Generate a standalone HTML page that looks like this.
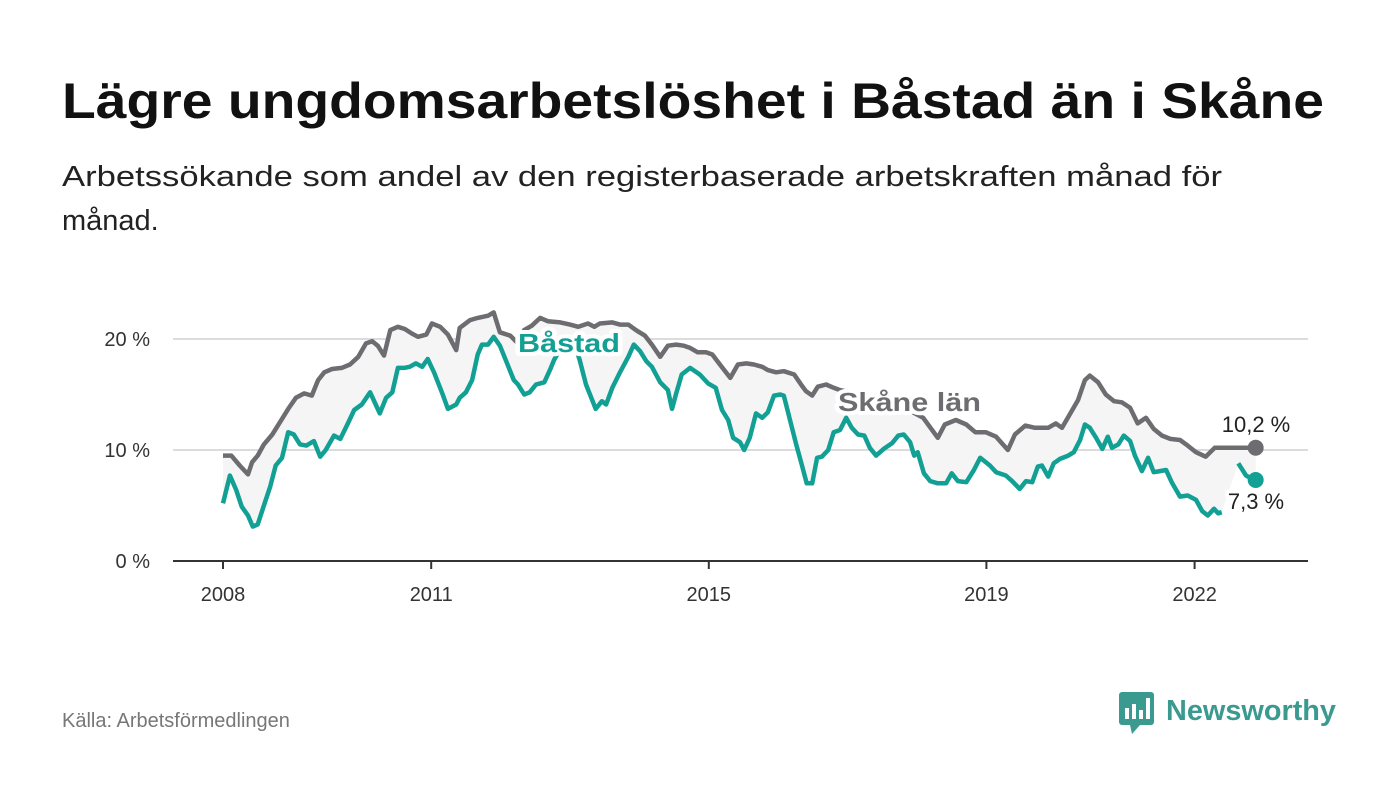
<!DOCTYPE html>
<html><head><meta charset="utf-8">
<style>
html,body{margin:0;padding:0;background:#fff;}
svg{display:block;font-family:"Liberation Sans",sans-serif;}
</style></head>
<body>
<svg id="chart" width="1400" height="794" viewBox="0 0 1400 794">
  <text x="62" y="118" font-size="50" font-weight="bold" fill="#111" textLength="1262" lengthAdjust="spacingAndGlyphs">Lägre ungdomsarbetslöshet i Båstad än i Skåne</text>
  <text x="62" y="186" font-size="29" fill="#222" textLength="1160" lengthAdjust="spacingAndGlyphs">Arbetssökande som andel av den registerbaserade arbetskraften månad för</text>
  <text x="62" y="230" font-size="29" fill="#222">månad.</text>
  <g id="grid"></g>
  <g id="area"></g>
  <g id="lines"></g>
  <g id="xaxis"></g>
  <g id="labels"></g>
  <text x="62" y="727" font-size="20" fill="#777">Källa: Arbetsförmedlingen</text>
  <g>
    <rect x="1119" y="692" width="35" height="33" rx="3" fill="#3a9a8f"/>
    <polygon points="1130,725 1140,725 1132,734" fill="#3a9a8f"/>
    <rect x="1125" y="708" width="4" height="11" fill="#fff"/>
    <rect x="1132" y="704" width="4" height="15" fill="#fff"/>
    <rect x="1139" y="710" width="4" height="9" fill="#fff"/>
    <rect x="1146" y="698" width="4" height="21" fill="#fff"/>
    <text x="1166" y="720" font-size="29" font-weight="bold" fill="#3a9a8f" textLength="170" lengthAdjust="spacingAndGlyphs">Newsworthy</text>
  </g>
</svg>
<script>
const yTicks = [0, 10, 20];
const yTickLabels = ["0 %", "10 %", "20 %"];
const xTicks = [2008, 2011, 2015, 2019, 2022];
const xTickLabels = ["2008", "2011", "2015", "2019", "2022"];
const skaneT = [0.00,0.12,0.24,0.36,0.42,0.50,0.59,0.71,0.82,0.94,1.05,1.17,1.28,1.37,1.46,1.57,1.71,1.83,1.95,2.06,2.15,2.23,2.32,2.41,2.52,2.62,2.72,2.81,2.93,3.01,3.13,3.24,3.36,3.41,3.56,3.67,3.82,3.90,3.99,4.14,4.25,4.34,4.45,4.57,4.68,4.86,5.00,5.12,5.26,5.35,5.43,5.61,5.72,5.84,5.95,6.08,6.18,6.30,6.41,6.53,6.64,6.73,6.84,6.96,7.05,7.16,7.31,7.42,7.54,7.65,7.77,7.85,7.97,8.08,8.23,8.34,8.40,8.49,8.57,8.69,8.80,8.89,9.18,9.47,9.76,10.09,10.30,10.40,10.56,10.71,10.84,10.99,11.14,11.31,11.41,11.56,11.70,11.89,12.00,12.09,12.20,12.32,12.42,12.49,12.61,12.72,12.84,12.95,13.07,13.18,13.30,13.41,13.53,13.65,13.79,13.90,14.02,14.16,14.29,14.51,14.88];
const skaneV = [9.5,9.5,8.6,7.8,8.9,9.5,10.5,11.4,12.5,13.7,14.7,15.1,14.9,16.3,17.0,17.3,17.4,17.7,18.4,19.6,19.8,19.4,18.5,20.8,21.1,20.9,20.5,20.2,20.4,21.4,21.1,20.4,19.0,21.0,21.7,21.9,22.1,22.4,20.6,20.3,19.6,20.8,21.2,21.9,21.6,21.5,21.3,21.1,21.4,21.1,21.4,21.5,21.3,21.3,20.8,20.3,19.5,18.4,19.4,19.5,19.4,19.2,18.8,18.8,18.6,17.7,16.5,17.7,17.8,17.7,17.5,17.2,17.0,17.1,16.8,15.8,15.3,14.9,15.7,15.9,15.6,15.4,15.0,14.6,14.0,12.9,11.1,12.3,12.7,12.3,11.6,11.6,11.2,10.0,11.4,12.2,12.0,12.0,12.4,12.0,13.2,14.5,16.3,16.7,16.1,15.0,14.4,14.3,13.8,12.4,12.9,11.9,11.3,11.0,10.9,10.4,9.8,9.4,10.2,10.2,10.2];
const bastadT = [0.00,0.10,0.19,0.27,0.36,0.43,0.50,0.59,0.68,0.76,0.85,0.94,1.02,1.11,1.20,1.31,1.40,1.48,1.60,1.69,1.80,1.89,2.00,2.12,2.20,2.26,2.35,2.44,2.52,2.61,2.69,2.78,2.87,2.95,3.04,3.16,3.24,3.36,3.41,3.50,3.59,3.67,3.73,3.82,3.90,3.99,4.08,4.19,4.25,4.34,4.42,4.51,4.63,4.71,4.77,4.93,5.07,5.14,5.23,5.32,5.37,5.46,5.52,5.61,5.72,5.84,5.92,6.01,6.10,6.18,6.30,6.41,6.47,6.53,6.61,6.73,6.87,6.99,7.10,7.19,7.28,7.35,7.45,7.51,7.59,7.68,7.77,7.85,7.94,8.03,8.08,8.17,8.26,8.33,8.41,8.49,8.56,8.63,8.72,8.80,8.89,8.98,9.06,9.15,9.24,9.32,9.41,9.52,9.64,9.73,9.81,9.90,9.96,10.01,10.10,10.19,10.30,10.42,10.50,10.59,10.71,10.82,10.91,11.05,11.14,11.28,11.37,11.48,11.57,11.66,11.74,11.80,11.89,11.97,12.06,12.18,12.26,12.35,12.42,12.49,12.58,12.67,12.75,12.81,12.90,12.98,13.07,13.14,13.24,13.33,13.41,13.50,13.59,13.67,13.79,13.90,14.02,14.11,14.19,14.28,14.34,14.39,14.51,14.63,14.74,14.80,14.88];
const bastadV = [5.2,7.7,6.4,4.9,4.1,3.1,3.3,5.0,6.7,8.6,9.3,11.6,11.4,10.5,10.4,10.8,9.4,10.0,11.3,11.0,12.4,13.6,14.1,15.2,14.1,13.3,14.7,15.2,17.4,17.4,17.5,17.8,17.5,18.2,17.0,15.1,13.7,14.1,14.7,15.2,16.3,18.6,19.5,19.5,20.2,19.4,18.0,16.3,15.9,15.0,15.2,15.9,16.1,17.2,18.1,19.9,19.5,18.1,15.9,14.5,13.7,14.4,14.1,15.6,17.0,18.4,19.5,18.9,18.0,17.5,16.1,15.4,13.7,15.1,16.8,17.4,16.8,16.0,15.6,13.6,12.7,11.1,10.7,10.0,11.1,13.3,12.9,13.4,14.9,15.0,14.9,12.7,10.5,8.9,7.0,7.0,9.3,9.4,10.0,11.6,11.8,12.9,12.0,11.4,11.3,10.2,9.5,10.1,10.6,11.3,11.4,10.7,9.5,9.8,7.9,7.2,7.0,7.0,7.9,7.2,7.1,8.2,9.3,8.6,8.0,7.7,7.2,6.5,7.2,7.1,8.5,8.6,7.6,8.8,9.2,9.5,9.8,10.9,12.3,12.0,11.1,10.1,11.2,10.2,10.5,11.3,10.8,9.5,8.1,9.3,8.0,8.1,8.2,7.1,5.8,5.9,5.5,4.5,4.1,4.7,4.3,4.4,null,8.8,7.7,7.5,7.3];

const NS = "http://www.w3.org/2000/svg";
const x = yr => 223 + (yr - 2008) * 69.4;
const y = v => 561 - v * 11.1;
function mk(tag, attrs, parent, txt) {
  const e = document.createElementNS(NS, tag);
  for (const k in attrs) e.setAttribute(k, attrs[k]);
  if (txt !== undefined) e.textContent = txt;
  parent.appendChild(e);
  return e;
}
const grid = document.getElementById('grid');
yTicks.forEach((t, i) => {
  if (t > 0) {
    const l = mk('line', {x1: 173, x2: 1308, y1: y(t), y2: y(t), stroke: '#dcdcdc', 'stroke-width': 2}, grid);
    
    
  }
  const tx = mk('text', {x: 150, y: y(t) + 7, 'text-anchor': 'end', 'font-size': 20, fill: '#333'}, grid, yTickLabels[i]);
  
  
});
const xa = document.getElementById('xaxis');
const ax = mk('line', {x1: 173, x2: 1308, y1: 561, y2: 561, stroke: '#333', 'stroke-width': 2}, xa);


xTicks.forEach((t, i) => {
  const tk = mk('line', {x1: x(t), x2: x(t), y1: 561, y2: 569, stroke: '#333', 'stroke-width': 2}, xa);
  
  
  const tl = mk('text', {x: x(t), y: 601, 'text-anchor': 'middle', 'font-size': 20, fill: '#333'}, xa, xTickLabels[i]);
  
  
});
const fwd = skaneT.map((t, i) => x(2008 + t) + ',' + y(skaneV[i]));
const back = [];
for (let i = bastadT.length - 1; i >= 0; i--) if (bastadV[i] !== null) back.push(x(2008 + bastadT[i]) + ',' + y(bastadV[i]));
const ar = mk('polygon', {points: fwd.concat(back).join(' '), fill: '#f5f5f5'}, document.getElementById('area'));


const lines = document.getElementById('lines');
function pathFor(T, V) {
  let d = '', pen = false;
  T.forEach((t, i) => {
    if (V[i] === null) { pen = false; return; }
    d += (pen ? 'L' : 'M') + x(2008 + t).toFixed(1) + ',' + y(V[i]).toFixed(1);
    pen = true;
  });
  return d;
}
const sk = mk('path', {d: pathFor(skaneT, skaneV), fill: 'none', stroke: '#6d6c70', 'stroke-width': 4.5, 'stroke-linejoin': 'round'}, lines);


const bs = mk('path', {d: pathFor(bastadT, bastadV), fill: 'none', stroke: '#12a094', 'stroke-width': 4.5, 'stroke-linejoin': 'round'}, lines);


const sl = skaneT.length - 1, bl = bastadT.length - 1;
const d1 = mk('circle', {cx: x(2008 + skaneT[sl]), cy: y(skaneV[sl]), r: 8, fill: '#6d6c70'}, lines);


const d2 = mk('circle', {cx: x(2008 + bastadT[bl]), cy: y(bastadV[bl]), r: 8, fill: '#12a094'}, lines);


const lab = document.getElementById('labels');
const halo = {stroke: '#fff', 'stroke-width': 8, 'paint-order': 'stroke', 'stroke-linejoin': 'round'};
const l1 = mk('text', Object.assign({x: 518, y: 352, 'font-size': 26, 'font-weight': 'bold', fill: '#12a094', textLength: 102, lengthAdjust: 'spacingAndGlyphs'}, halo), lab, 'Båstad');


const l2 = mk('text', Object.assign({x: 838, y: 411, 'font-size': 26, 'font-weight': 'bold', fill: '#6d6c70', textLength: 143, lengthAdjust: 'spacingAndGlyphs'}, halo), lab, 'Skåne län');


const l3 = mk('text', Object.assign({x: 1256, y: 432, 'text-anchor': 'middle', 'font-size': 22, fill: '#222'}, halo), lab, (skaneV[sl]).toFixed(1).replace('.', ',') + ' %');


const l4 = mk('text', Object.assign({x: 1256, y: 509, 'text-anchor': 'middle', 'font-size': 22, fill: '#222'}, halo), lab, (bastadV[bl]).toFixed(1).replace('.', ',') + ' %');


</script>
</body></html>
